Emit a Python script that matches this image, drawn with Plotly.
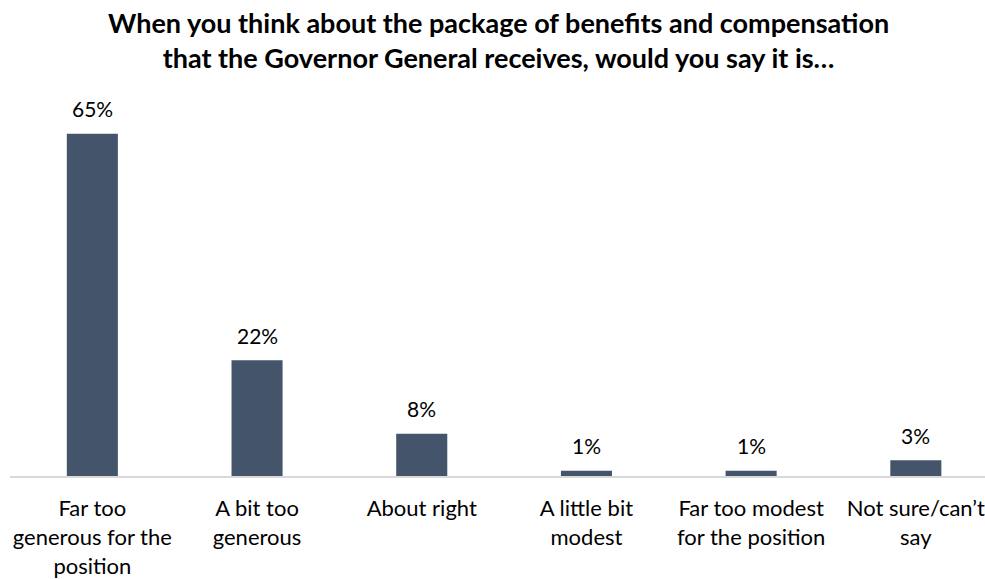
import plotly.graph_objects as go

categories = [
    "Far too<br>generous for the<br>position",
    "A bit too<br>generous",
    "About right",
    "A little bit<br>modest",
    "Far too modest<br>for the position",
    "Not sure/can’t<br>say",
]
values = [65, 22, 8, 1, 1, 3]
value_labels = ["65%", "22%", "8%", "1%", "1%", "3%"]

title_text = ("When you think about the package of benefits and compensation<br>"
              "that the Governor General receives, would you say it is…")

BAR_COLOR = "#44546A"
FONT = "Lato"
PLOT_TOP = 100
PLOT_H = 379

fig = go.Figure()
fig.add_trace(go.Bar(
    x=categories,
    y=values,
    marker=dict(color=BAR_COLOR, line=dict(width=0)),
    hoverinfo="skip",
))

for c, v, t in zip(categories, values, value_labels):
    fig.add_annotation(
        x=c, y=v, text=t, showarrow=False,
        yanchor="middle", yshift=25,
        font=dict(family=FONT, size=21, color="#000000"),
    )

fig.add_annotation(
    text="<b>" + title_text + "</b>",
    xref="paper", yref="paper",
    x=(498 - 10) / 975, xanchor="center",
    y=1 + (PLOT_TOP - 40) / PLOT_H, yanchor="middle",
    showarrow=False, align="center",
    font=dict(family=FONT, size=27, color="#000000"),
)

fig.update_layout(
    width=985, height=579,
    margin=dict(l=10, r=0, t=PLOT_TOP, b=579 - PLOT_TOP - PLOT_H),
    paper_bgcolor="white", plot_bgcolor="white",
    bargap=0.69,
    showlegend=False,
    xaxis=dict(
        range=[-0.5, 5.42],
        showline=True, linecolor="#D9D9D9", linewidth=2,
        ticks="", showgrid=False, zeroline=False,
        tickfont=dict(family=FONT, size=22, color="#000000"),
        ticklabelstandoff=12,
    ),
    yaxis=dict(
        range=[0, 71.4],
        visible=False, showgrid=False, zeroline=False,
    ),
)

fig.write_html("out.html")
